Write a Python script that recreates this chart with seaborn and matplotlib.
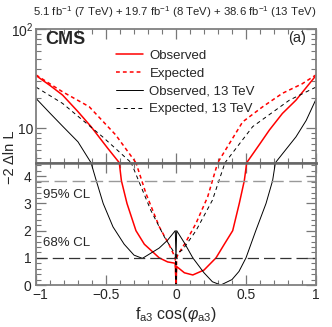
import matplotlib
matplotlib.use('Agg')
import matplotlib.pyplot as plt
import matplotlib.transforms as mtransforms
import seaborn as sns
import numpy as np
from matplotlib.ticker import MultipleLocator, FixedLocator, FixedFormatter, LogLocator, NullFormatter
from matplotlib.lines import Line2D

# observed, combined (red solid)
obs_x = [-1, -0.9, -0.81, -0.7, -0.607, -0.488, -0.405, -0.39, -0.35, -0.286, -0.226, -0.12,
         -0.06, -0.005, 0, 0.005, 0.06, 0.12, 0.2, 0.286, 0.345, 0.405, 0.452, 0.488, 0.505,
         0.6, 0.667, 0.76, 0.857, 1]
obs_y = [34, 27, 21.6, 14.7, 10.4, 6.3, 4.5, 3.84, 3.0, 2.0, 1.5, 1.0,
         0.85, 0.8, 0, 0.68, 0.45, 0.37, 0.55, 1.0, 1.5, 2.0, 3.0, 3.84, 4.5,
         7.0, 9.6, 14.1, 19.2, 34]

# expected, combined (red dashed)
exp_x = [-1, -0.9, -0.81, -0.62, -0.43, -0.286, -0.214, -0.119, -0.048, -0.005, 0,
         0.005, 0.012, 0.071, 0.143, 0.226, 0.298, 0.476, 0.62, 0.76, 0.9, 1]
exp_y = [34.5, 28, 23.3, 16.5, 8.55, 4.5, 3.36, 2.14, 1.47, 1.0, 0,
         1.0, 1.1, 1.59, 2.27, 3.24, 4.5, 11.6, 16.5, 22.5, 28, 34.5]

# observed, 13 TeV (black solid)
obs13_x = [-1, -0.9, -0.81, -0.7, -0.607, -0.57, -0.52, -0.45, -0.37, -0.3, -0.24, -0.12,
           -0.06, -0.005, 0, 0.005, 0.06, 0.12, 0.2, 0.26, 0.32, 0.4, 0.45, 0.5, 0.57,
           0.643, 0.69, 0.71, 0.8, 0.857, 0.93, 1]
obs13_y = [20, 14.2, 10.5, 7.3, 4.5, 3.85, 3.0, 2.14, 1.5, 1.1, 0.98, 1.36,
           1.65, 2.0, 1.0, 2.0, 1.55, 1.0, 0.45, 0.12, 0, 0.2, 0.5, 1.0, 2.0,
           3.0, 3.84, 4.5, 6.5, 8.2, 12, 19.6]

# expected, 13 TeV (black dashed)
exp13_x = [-1, -0.81, -0.524, -0.32, -0.18, -0.083, -0.024, -0.005, 0,
           0.005, 0.048, 0.143, 0.26, 0.35, 0.548, 0.81, 1]
exp13_y = [26, 17.8, 8.2, 4.5, 2.75, 1.77, 1.28, 1.15, 0,
           1.15, 1.3, 2.0, 3.12, 4.5, 10.4, 19.2, 26]

cl_levels = [3.84, 1.0]
cl_labels = ["95% CL", "68% CL"]

sns.set_style("ticks")
plt.rcParams['font.family'] = ['Liberation Sans', 'DejaVu Sans']
plt.rcParams['mathtext.fontset'] = 'custom'
plt.rcParams['mathtext.rm'] = 'Liberation Sans'
plt.rcParams['mathtext.it'] = 'Liberation Sans:italic'

fig = plt.figure(figsize=(3.32, 3.27), dpi=100)
ax_top = fig.add_axes([0.1084, 0.5024, 0.8434, 0.4089])
ax_bot = fig.add_axes([0.1084, 0.1284, 0.8434, 0.374])

series = [
    (obs_x, obs_y, 'red', '-', 1.1, "Observed"),
    (exp_x, exp_y, 'red', (0, (2.5, 2)), 1.1, "Expected"),
    (obs13_x, obs13_y, 'black', '-', 0.7, "Observed, 13 TeV"),
    (exp13_x, exp13_y, 'black', (0, (4, 3.5)), 0.7, "Expected, 13 TeV"),
]

for ax in (ax_top, ax_bot):
    for xs, ys, c, ls, lw, lab in series:
        sns.lineplot(x=xs, y=ys, ax=ax, estimator=None, sort=False,
                     color=c, linestyle=ls, linewidth=lw)

# top panel: log
ax_top.set_yscale('log')
ax_top.set_ylim(4.5, 100)
ax_top.set_xlim(-1, 1)
ax_top.yaxis.set_major_locator(FixedLocator([10, 100]))
ax_top.yaxis.set_major_formatter(FixedFormatter(["10", "$10^2$"]))
ax_top.yaxis.set_minor_locator(LogLocator(base=10, subs=np.arange(2, 10)))
ax_top.yaxis.set_minor_formatter(NullFormatter())
ax_top.set_xticklabels([])

# bottom panel: linear
ax_bot.set_ylim(0, 4.5)
ax_bot.set_xlim(-1, 1)
ax_bot.set_yticks([0, 1, 2, 3, 4])
ax_bot.yaxis.set_minor_locator(MultipleLocator(0.2))

for ax in (ax_top, ax_bot):
    ax.set_xticks([-1, -0.5, 0, 0.5, 1])
    ax.xaxis.set_minor_locator(MultipleLocator(0.1))
    ax.tick_params(which='both', direction='in', top=True, right=True,
                   color='#777777', labelsize=10, pad=2)
    ax.tick_params(which='major', length=7, width=0.9)
    ax.tick_params(which='minor', length=3.5, width=0.8)
    for sp in ax.spines.values():
        sp.set_color('#808080')
        sp.set_linewidth(1.3)
    ax.set_xlabel("")
    ax.set_ylabel("")

ax_bot.tick_params(axis='x', pad=2.5)
ax_bot.tick_params(axis='y', pad=3.5)
ax_bot.set_xticklabels(["\u22121", "\u22120.5", "0", "0.5", "1"])
# nudge the "-1" label right so it clears the "0" of the y axis
shift = mtransforms.ScaledTranslation(4 / 100, 0, fig.dpi_scale_trans)
first = ax_bot.get_xticklabels()[0]
first.set_transform(first.get_transform() + shift)

ax_top.spines['bottom'].set_color('#666666')
ax_top.spines['bottom'].set_linewidth(1.8)
ax_bot.spines['top'].set_color('#666666')
ax_bot.spines['top'].set_linewidth(1.8)

# CL lines
ax_bot.axhline(cl_levels[0], color='#999999', linestyle=(0, (9, 4)), linewidth=1.0)
ax_bot.axhline(cl_levels[1], color='#333333', linestyle=(0, (9, 4)), linewidth=0.9)
ax_bot.text(0.025, 3.3, cl_labels[0], transform=ax_bot.get_yaxis_transform(),
            fontsize=9.5, va='center', ha='left')
ax_bot.text(0.025, 1.55, cl_labels[1], transform=ax_bot.get_yaxis_transform(),
            fontsize=9.5, va='center', ha='left')

# legend
handles = [Line2D([], [], color=c, linestyle=ls, linewidth=lw) for _, _, c, ls, lw, _ in series]
labels = [s[5] for s in series]
ax_top.legend(handles, labels, loc='upper left', bbox_to_anchor=(0.285, 0.845),
              frameon=False, fontsize=9.5, handlelength=2.1, handletextpad=0.45,
              labelspacing=0.42, borderpad=0, borderaxespad=0)

ax_top.text(0.033, 0.985, "CMS", transform=ax_top.transAxes, fontsize=13,
            fontweight='bold', va='top', ha='left')
ax_top.text(0.965, 0.985, "(a)", transform=ax_top.transAxes, fontsize=10.5,
            va='top', ha='right')

fig.text(316 / 332, 1 - 12 / 327,
         "5.1 fb$^{-1}$ (7 TeV) + 19.7 fb$^{-1}$ (8 TeV) + 38.6 fb$^{-1}$ (13 TeV)",
         fontsize=8.2, ha='right', va='center')
fig.text(176 / 332, 1 - 314 / 327, r"f$_{\mathrm{a3}}$ cos($\varphi_{\mathrm{a3}}$)",
         fontsize=11.5, ha='center', va='center')
fig.text(10 / 332, 1 - 157 / 327, "\u22122 \u0394ln L", fontsize=10.5,
         rotation=90, ha='center', va='center')

plt.savefig("out.png", dpi=100)
plt.close()
